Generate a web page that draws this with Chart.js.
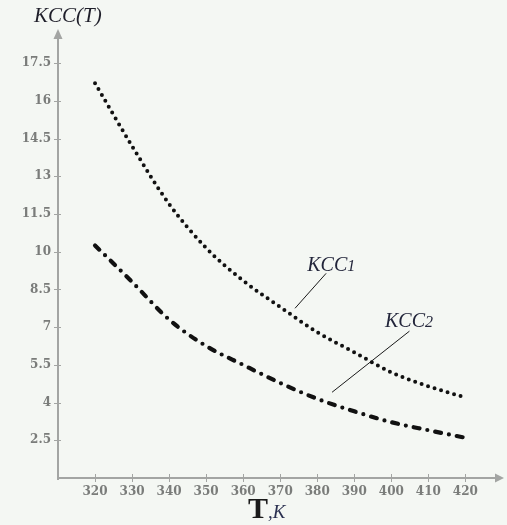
<!DOCTYPE html>
<html>
<head>
<meta charset="utf-8">
<script src="https://cdn.jsdelivr.net/npm/chart.js@4"></script>
<style>
html,body{margin:0;padding:0;background:#f4f7f3;}
#wrap{width:507px;height:525px;position:relative;}
</style>
</head>
<body>
<div id="wrap"><canvas id="c" width="507" height="525"></canvas></div>
<script>
const T = [320, 330, 340, 350, 360, 370, 380, 390, 400, 410, 420];
const KCC1 = [16.7, 14.2, 11.9, 10.15, 8.85, 7.8, 6.8, 6.0, 5.2, 4.65, 4.2];
const KCC2 = [10.25, 8.8, 7.3, 6.25, 5.5, 4.78, 4.15, 3.65, 3.22, 2.9, 2.6];
const X_TICKS = [320, 330, 340, 350, 360, 370, 380, 390, 400, 410, 420];
const Y_TICKS = [2.5, 4, 5.5, 7, 8.5, 10, 11.5, 13, 14.5, 16, 17.5];
const Y_TITLE = 'KCC(T)';
const X_TITLE_MAIN = 'T';
const X_TITLE_SUB = ',K';
const LABEL1 = ['KCC', '1'];
const LABEL2 = ['KCC', '2'];

const axisColor = '#a3a5a3';
const tickFont = {family: '"DejaVu Serif", serif', size: 12, weight: 'bold'};

const decor = {
  id: 'decor',
  beforeDraw(chart) {
    const ctx = chart.ctx;
    ctx.save();
    ctx.fillStyle = '#f4f7f3';
    ctx.fillRect(0, 0, chart.width, chart.height);
    ctx.restore();
  },
  afterDraw(chart) {
    const ctx = chart.ctx;
    const xs = chart.scales.x, ys = chart.scales.y;
    const x0 = xs.left, y0 = ys.bottom;
    ctx.save();
    ctx.strokeStyle = axisColor;
    ctx.fillStyle = axisColor;
    ctx.lineWidth = 2;
    // y axis
    ctx.beginPath();
    ctx.moveTo(x0, y0 + 2);
    ctx.lineTo(x0, ys.top - 2);
    ctx.stroke();
    ctx.beginPath();
    ctx.moveTo(x0, ys.top - 9);
    ctx.lineTo(x0 - 4.5, ys.top + 1);
    ctx.lineTo(x0 + 4.5, ys.top + 1);
    ctx.closePath();
    ctx.fill();
    // x axis
    ctx.beginPath();
    ctx.moveTo(x0 - 1, y0);
    ctx.lineTo(xs.right + 2, y0);
    ctx.stroke();
    ctx.beginPath();
    ctx.moveTo(xs.right + 9, y0);
    ctx.lineTo(xs.right, y0 - 4.5);
    ctx.lineTo(xs.right, y0 + 4.5);
    ctx.closePath();
    ctx.fill();
    // tick marks
    ctx.lineWidth = 1;
    Y_TICKS.forEach(v => {
      const p = Math.round(ys.getPixelForValue(v)) + 0.5;
      ctx.beginPath(); ctx.moveTo(x0 - 4, p); ctx.lineTo(x0 + 3, p); ctx.stroke();
    });
    X_TICKS.forEach(v => {
      const p = Math.round(xs.getPixelForValue(v)) + 0.5;
      ctx.beginPath(); ctx.moveTo(p, y0 - 4); ctx.lineTo(p, y0 + 4); ctx.stroke();
    });
    // y title
    ctx.fillStyle = '#1f1f2a';
    ctx.font = 'italic 21px "Liberation Serif", serif';
    ctx.textBaseline = 'alphabetic';
    ctx.textAlign = 'left';
    ctx.fillText(Y_TITLE, 34, 22);
    // x title
    ctx.font = 'bold 30px "Liberation Serif", serif';
    ctx.fillStyle = '#1a1a1a';
    ctx.fillText(X_TITLE_MAIN, 248, 518);
    const tw = ctx.measureText(X_TITLE_MAIN).width;
    ctx.font = 'italic 19px "Liberation Serif", serif';
    ctx.fillStyle = '#2a3050';
    ctx.fillText(X_TITLE_SUB, 248 + tw, 518);
    // curve labels with leader lines (anchored in data coordinates)
    const drawLabel = (parts, tx, ty, lx1, ly1, lx2, ly2) => {
      const px = xs.getPixelForValue(tx), py = ys.getPixelForValue(ty);
      ctx.fillStyle = '#22253a';
      ctx.font = 'italic 20px "Liberation Serif", serif';
      ctx.fillText(parts[0], px, py);
      const w = ctx.measureText(parts[0]).width;
      ctx.font = 'italic 16px "Liberation Serif", serif';
      ctx.fillText(parts[1], px + w, py);
      ctx.strokeStyle = '#1a1a1a';
      ctx.lineWidth = 1;
      ctx.beginPath();
      ctx.moveTo(xs.getPixelForValue(lx1), ys.getPixelForValue(ly1));
      ctx.lineTo(xs.getPixelForValue(lx2), ys.getPixelForValue(ly2));
      ctx.stroke();
    };
    drawLabel(LABEL1, 377.3, 9.25, 382.4, 9.14, 374.0, 7.75);
    drawLabel(LABEL2, 398.3, 7.0, 404.9, 6.84, 384.0, 4.41);
    ctx.restore();
  }
};

new Chart(document.getElementById('c'), {
  type: 'line',
  data: {
    datasets: [
      {
        label: 'KCC1',
        data: T.map((t, i) => ({x: t, y: KCC1[i]})),
        borderColor: '#111',
        borderWidth: 4,
        borderDash: [0, 6.8],
        borderCapStyle: 'round',
        pointRadius: 0,
        cubicInterpolationMode: 'monotone',
        fill: false
      },
      {
        label: 'KCC2',
        data: T.map((t, i) => ({x: t, y: KCC2[i]})),
        borderColor: '#111',
        borderWidth: 4.2,
        borderDash: [6, 8, 0, 8],
        borderCapStyle: 'round',
        pointRadius: 0,
        cubicInterpolationMode: 'monotone',
        fill: false
      }
    ]
  },
  options: {
    responsive: false,
    animation: false,
    devicePixelRatio: 1,
    layout: {padding: {left: 0, top: 38, right: 12, bottom: 0}},
    plugins: {legend: {display: false}, tooltip: {enabled: false}, title: {display: false}},
    scales: {
      x: {
        type: 'linear',
        min: 310,
        max: 428,
        grid: {display: false, drawTicks: false},
        border: {display: false},
        afterBuildTicks: s => { s.ticks = X_TICKS.map(v => ({value: v})); },
        afterFit: s => { s.height = 47; },
        ticks: {color: '#7a7c7a', font: tickFont, padding: 7, maxRotation: 0, autoSkip: false,
                callback: v => String(v)}
      },
      y: {
        type: 'linear',
        min: 1,
        max: 18.5,
        grid: {display: false, drawTicks: false},
        border: {display: false},
        afterBuildTicks: s => { s.ticks = Y_TICKS.map(v => ({value: v})); },
        afterFit: s => { s.width = 58; },
        ticks: {color: '#7a7c7a', font: tickFont, padding: 7, autoSkip: false,
                callback: v => String(v)}
      }
    }
  },
  plugins: [decor]
});
</script>
</body>
</html>
